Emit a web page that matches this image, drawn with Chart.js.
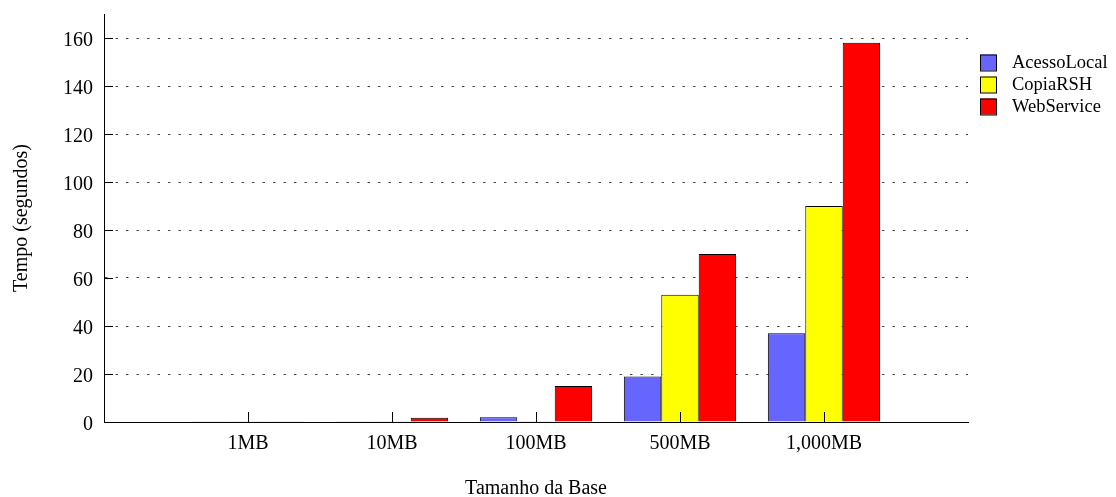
<!DOCTYPE html>
<html>
<head>
<meta charset="utf-8">
<script src="https://cdn.jsdelivr.net/npm/chart.js@4/dist/chart.umd.min.js"></script>
<style>
  html, body { margin: 0; padding: 0; background: #fff; }
  #wrap { width: 1116px; height: 497px; }
</style>
</head>
<body>
<div id="wrap"><canvas id="barChart"></canvas></div>
<script>
// data
const categories = ['1MB', '10MB', '100MB', '500MB', '1,000MB'];
const acessoLocal = [0.3, 0.3, 2, 19, 37];
const copiaRSH = [0.3, 0.3, 0.3, 53, 90];
const webService = [0.3, 1.8, 15, 70, 158];
const yTicks = [0, 20, 40, 60, 80, 100, 120, 140, 160];

const serif = 'Liberation Serif, Times New Roman, serif';

// empty slot on each side, like the original x range
const pad = arr => [null, ...arr, null];
const labels = ['', ...categories, ''];

// small inward tick marks + legend on the right
const extras = {
  id: 'extras',
  afterDraw(chart) {
    const ctx = chart.ctx;
    const x = chart.scales.x, y = chart.scales.y;
    const area = chart.chartArea;
    ctx.save();
    ctx.strokeStyle = '#000';
    ctx.lineWidth = 1;
    ctx.beginPath();
    yTicks.forEach(v => {
      const py = Math.round(y.getPixelForValue(v)) + 0.5;
      ctx.moveTo(area.left, py);
      ctx.lineTo(area.left + 9, py);
    });
    categories.forEach((c, i) => {
      const px = Math.round(x.getPixelForValue(i + 1)) + 0.5;
      ctx.moveTo(px, area.bottom);
      ctx.lineTo(px, area.bottom - 10);
    });
    ctx.stroke();

    ctx.font = '18.5px ' + serif;
    ctx.textBaseline = 'middle';
    chart.data.datasets.forEach((ds, i) => {
      const top = 54.5 + i * 22;
      ctx.fillStyle = ds.backgroundColor;
      ctx.fillRect(980, top, 16, 16);
      ctx.strokeStyle = '#000';
      ctx.strokeRect(980.5, top + 0.5, 16, 16);
      ctx.fillStyle = '#000';
      ctx.fillText(ds.label, 1012, top + 9);
    });
    ctx.restore();
  }
};

const chart = new Chart(document.getElementById('barChart'), {
  type: 'bar',
  data: {
    labels: labels,
    datasets: [
      { label: 'AcessoLocal', data: pad(acessoLocal), backgroundColor: '#6666ff' },
      { label: 'CopiaRSH', data: pad(copiaRSH), backgroundColor: '#ffff00' },
      { label: 'WebService', data: pad(webService), backgroundColor: '#ff0000' }
    ]
  },
  options: {
    responsive: true,
    maintainAspectRatio: false,
    animation: false,
    layout: { padding: { top: 14, right: 148, left: 0, bottom: 0 } },
    datasets: {
      bar: {
        borderColor: '#000',
        borderWidth: 1,
        borderSkipped: 'start',
        categoryPercentage: 0.78,
        barPercentage: 1
      }
    },
    plugins: {
      legend: { display: false },
      tooltip: { enabled: false }
    },
    scales: {
      x: {
        offset: false,
        grid: { display: false, drawTicks: false },
        border: { color: '#000', width: 1 },
        ticks: {
          color: '#000',
          font: { family: serif, size: 20 },
          padding: 10,
          maxRotation: 0,
          autoSkip: false
        },
        title: {
          display: true,
          text: 'Tamanho da Base',
          color: '#000',
          font: { family: serif, size: 20 },
          padding: { top: 0, bottom: -4 }
        },
        afterFit(scale) {
          scale.height = 75;
          scale.paddingLeft = 0;
          scale.paddingRight = 0;
        }
      },
      y: {
        min: 0,
        max: 170,
        grid: {
          color: '#444',
          drawTicks: false
        },
        border: { color: '#000', width: 1, dash: [2.5, 8] },
        ticks: {
          stepSize: 20,
          color: '#000',
          font: { family: serif, size: 20 },
          padding: 11,
          labelOffset: 3
        },
        afterBuildTicks(scale) {
          scale.ticks = yTicks.map(v => ({ value: v }));
        },
        title: {
          display: true,
          text: 'Tempo (segundos)',
          color: '#000',
          font: { family: serif, size: 20 },
          padding: { top: 10, bottom: 0 }
        },
        afterFit(scale) {
          scale.width = 104;
          scale.paddingTop = 0;
          scale.paddingBottom = 0;
        }
      }
    }
  },
  plugins: [extras]
});
</script>
</body>
</html>
